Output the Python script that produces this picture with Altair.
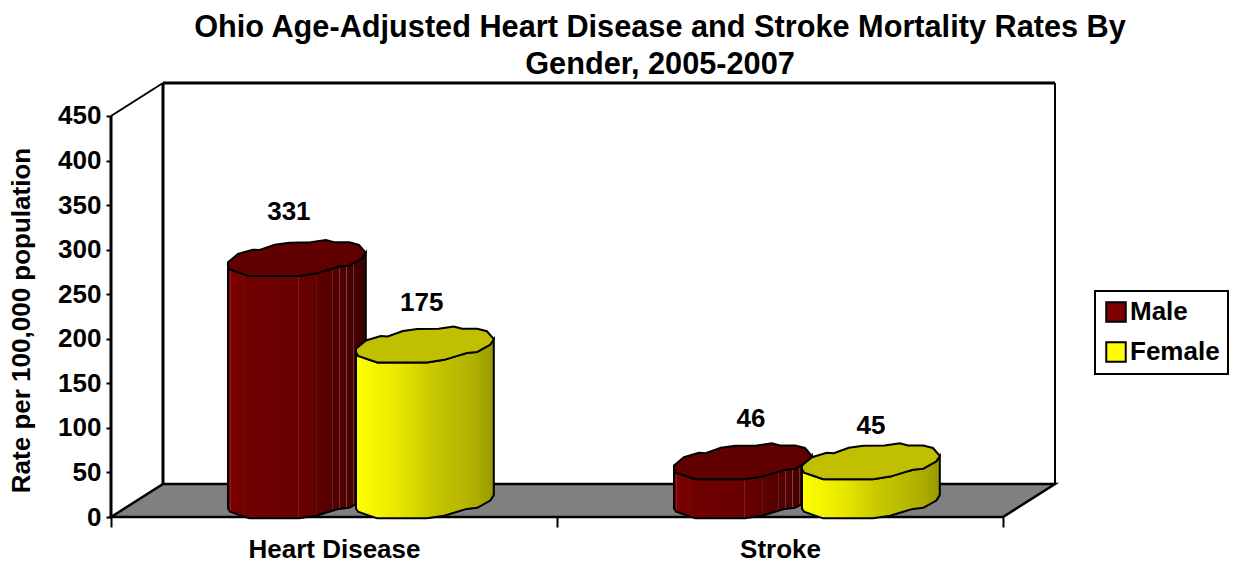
import altair as alt
import pandas as pd

FONT = "Liberation Sans"

# ---- chart values -------------------------------------------------------
categories = ["Heart Disease", "Stroke"]
series = ["Male", "Female"]
series_colors = ["#800000", "#ffff00"]
top_colors = ["#600000", "#c0c000"]
bar_labels = [331, 175, 46, 45]
bar_heights = [272, 175, 44, 44]      # height of the cylinders as drawn against the axis
bar_category = [0, 0, 1, 1]
bar_series = [0, 1, 0, 1]
label_lift = [52, 47, 48, 40]
label_shift = [-0.018, -0.007, 0.018, 0.0]
y_ticks = [0, 50, 100, 150, 200, 250, 300, 350, 400, 450]
x_ticks = [0, 0.5, 1, 1.5, 2]

# ---- scale set-up -------------------------------------------------------
PLOT_W, PLOT_H = 944, 434
X_MAX = 2.1166
Y_MAX = 487.0
DEPTH_X = 0.1166
DEPTH_Y = 37.0
BAR_OFFSET = 0.1435
BAR_HALF = 0.1545
ELLIPSE_HALF = 20.0
x_scale = alt.Scale(domain=[0, X_MAX], nice=False, zero=False)
y_scale = alt.Scale(domain=[0, Y_MAX], nice=False, zero=False)

# cylinder outline (normalised)
outline_top = [(-1, .23), (-.855, -.23), (-.64, -.47), (-.54, -.45), (-.32, -.75), (-.11, -.86),
               (.2, -.88), (.42, -1), (.54, -.88), (.76, -.88), (.9, -.74), (1, -.3)]
outline_low = [(-1, .45), (-.97, .63), (-.83, .82), (-.69, 1), (.03, 1), (.28, .85), (.47, .63),
               (.61, .47), (.76, .41), (.95, 0), (1, -.3)]
ELLIPSE_RATIO = 36 / 138
top_path = "M" + " L".join(f"{u:.3f},{v * ELLIPSE_RATIO:.3f}" for u, v in outline_top + outline_low[::-1][1:]) + " Z"


def x_at(i):
    return bar_category[i] + 0.502 + DEPTH_X / 2 + (-1 if bar_series[i] == 0 else 1) * BAR_OFFSET


def hex_mix(a, b, t):
    ca = [int(a[k:k + 2], 16) for k in (1, 3, 5)]
    cb = [int(b[k:k + 2], 16) for k in (1, 3, 5)]
    return "#" + "".join(f"{round(p + (q - p) * t):02x}" for p, q in zip(ca, cb))


male_stripes = [.02, .11, .16, .51, .58, .64, .76, .81, .86, .91, .95]
male_bands = ["#800000", "#6e0000", "#6e0000", "#6a0000", "#5c0000", "#500000", "#3c0000"]


def stops_male():
    out = []
    marks = sorted(set(male_stripes))
    def base(t):
        n = len(male_bands) - 1
        k = min(int(t * n), n - 1)
        return hex_mix(male_bands[k], male_bands[k + 1], t * n - k)
    out.append(alt.GradientStop(offset=0, color=base(0)))
    for m in marks:
        c = base(m)
        out.append(alt.GradientStop(offset=m - .003, color=c))
        out.append(alt.GradientStop(offset=m, color=hex_mix(c, "#ffffff", .28)))
        out.append(alt.GradientStop(offset=m + .003, color=c))
    out.append(alt.GradientStop(offset=1, color=base(1)))
    return out


stops_female = [alt.GradientStop(offset=0, color="#ffff00"), alt.GradientStop(offset=.3, color="#e8e800"),
                alt.GradientStop(offset=.55, color="#c8c800"), alt.GradientStop(offset=.85, color="#b0b000"),
                alt.GradientStop(offset=1, color="#989800")]

# ---- frame --------------------------------------------------------------
axis_x = alt.Axis(values=x_ticks, title=None, grid=False, domain=False, tickColor="black", tickWidth=2, tickSize=10,
                  tickOpacity={"condition": {"test": "datum.value % 1 != 0", "value": 0}, "value": 1},
                  labelExpr="datum.value == 0.5 ? '%s' : datum.value == 1.5 ? '%s' : ''" % tuple(categories),
                  labelFont=FONT, labelFontSize=26, labelFontWeight="bold", labelColor="black",
                  labelPadding=22, labelAngle=0, labelBaseline="middle", labelOverlap=False, labelFlush=False)
axis_y = alt.Axis(values=y_ticks, title="Rate per 100,000 population", grid=False, domain=False, tickColor="black",
                  tickWidth=2, tickSize=5, labelFont=FONT, labelFontSize=26, labelFontWeight="bold",
                  labelColor="black", labelPadding=5, labelOverlap=False, labelFlush=False,
                  titleFont=FONT, titleFontSize=26, titleFontWeight="bold", titleColor="black",
                  titleX=-77, titleY=237)

X = lambda: alt.X("x:Q", scale=x_scale, axis=axis_x)
Y = lambda: alt.Y("y:Q", scale=y_scale, axis=axis_y)

floor = pd.DataFrame({"x": [0, DEPTH_X, 2, 2 + DEPTH_X],
                      "y": [0, DEPTH_Y, DEPTH_Y, DEPTH_Y],
                      "y2": [0, 0, 0, DEPTH_Y]})
layers = [
    alt.Chart(floor).mark_area(color="#808080", stroke="black", strokeWidth=2.5, opacity=1, interpolate="linear").encode(
        x=X(), y=Y(), y2="y2:Q")
]

frame = pd.DataFrame({
    "x":  [0, 0, DEPTH_X, DEPTH_X, 2 + DEPTH_X],
    "x2": [0, DEPTH_X, DEPTH_X, 2 + DEPTH_X, 2 + DEPTH_X],
    "y":  [0, 450, DEPTH_Y, Y_MAX, DEPTH_Y],
    "y2": [450, Y_MAX, Y_MAX, Y_MAX, Y_MAX],
    "w":  [3, 2, 3, 3, 2],
})
layers.append(alt.Chart(frame).mark_rule(color="black").encode(
    x=X(), x2="x2:Q", y=Y(), y2="y2:Q",
    strokeWidth=alt.StrokeWidth("w:Q", scale=None, legend=None)))

# legend carrier: tiny squares hidden behind the cylinder tops
legend_df = pd.DataFrame({"x": [x_at(0), x_at(1)], "y": [bar_heights[0] + DEPTH_Y / 2, bar_heights[1] + DEPTH_Y / 2],
                          "s": series})
layers.append(alt.Chart(legend_df).mark_square(size=4, opacity=1).encode(
    x=X(), y=Y(),
    color=alt.Color("s:N", sort=series, scale=alt.Scale(domain=series, range=series_colors),
                    legend=alt.Legend(orient="none", legendX=984, legendY=208, title=None, padding=8,
                                      strokeColor="black", fillColor="white", symbolType="square", symbolSize=380,
                                      symbolStrokeColor="black", symbolStrokeWidth=2,
                                      labelFont=FONT, labelFontSize=26, labelFontWeight="bold", labelColor="black",
                                      labelOffset=1, rowPadding=12, symbolOpacity=1))))

# ---- cylinders ----------------------------------------------------------
for i in range(len(bar_heights)):
    cx = x_at(i)
    s = bar_series[i]
    floor_y = DEPTH_Y / 2
    top_y = bar_heights[i] + floor_y
    body = pd.DataFrame({
        "x": [cx + u * BAR_HALF for u, _ in outline_low],
        "y": [top_y - v * ELLIPSE_HALF for _, v in outline_low],
        "y2": [floor_y - v * ELLIPSE_HALF for _, v in outline_low],
    })
    grad = alt.Gradient(gradient="linear", stops=stops_male() if s == 0 else stops_female, x1=0, x2=1, y1=0, y2=0)
    layers.append(alt.Chart(body).mark_area(fill=grad, stroke="black", strokeWidth=2, opacity=1,
                                            interpolate="linear").encode(x=X(), y=Y(), y2="y2:Q"))
    cap = pd.DataFrame({"x": [cx], "y": [top_y]})
    layers.append(alt.Chart(cap).mark_point(shape=top_path, size=(2 * BAR_HALF * PLOT_W / X_MAX) ** 2, filled=True,
                                            fill=top_colors[s], stroke="black", strokeWidth=2, opacity=1,
                                            strokeOpacity=1, fillOpacity=1).encode(x=X(), y=Y()))

# ---- value labels -------------------------------------------------------
labels = pd.DataFrame({
    "x": [x_at(i) + label_shift[i] for i in range(4)],
    "y": [bar_heights[i] + DEPTH_Y / 2 + label_lift[i] for i in range(4)],
    "t": [str(v) for v in bar_labels],
})
layers.append(alt.Chart(labels).mark_text(font=FONT, fontSize=26, fontWeight="bold", color="black",
                                          baseline="middle", align="center").encode(x=X(), y=Y(), text="t:N"))

chart = alt.layer(*layers).resolve_scale(color="independent").properties(
    width=PLOT_W, height=PLOT_H,
    autosize=alt.AutoSizeParams(type="none"),
    padding={"left": 103, "top": 75, "right": 178, "bottom": 44},
    background="white",
    title=alt.TitleParams(
        text=["Ohio Age-Adjusted Heart Disease and Stroke Mortality Rates By", "Gender, 2005-2007"],
        font=FONT, fontSize=30.7, fontWeight="bold", color="black", anchor="middle", dx=77, offset=1, lineHeight=37,
    ),
).configure_view(stroke=None).configure_legend(strokeWidth=2)

chart.save("out.html", embed_options={"renderer": "svg", "actions": False})
